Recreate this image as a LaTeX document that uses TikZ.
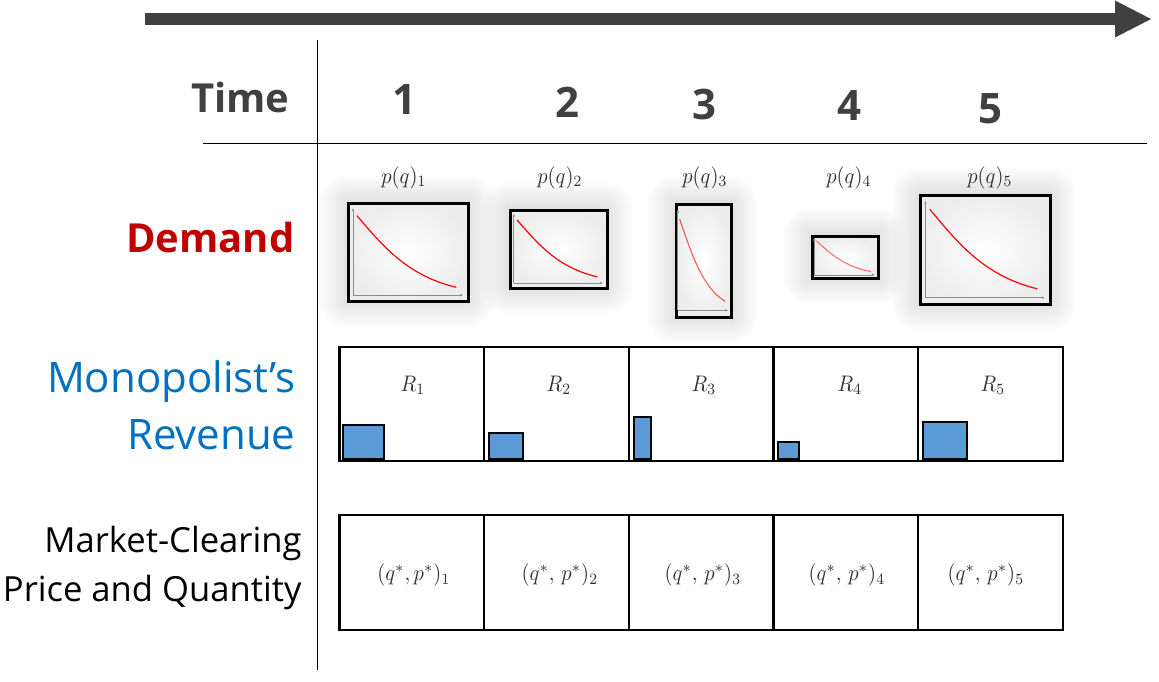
\documentclass[tikz,border=0pt]{standalone}
\usepackage{fontspec}
\setmainfont{Open Sans}
\usetikzlibrary{calc,arrows.meta}
\definecolor{dg}{HTML}{404040}
\definecolor{dred}{HTML}{C00000}
\definecolor{mblue}{HTML}{0070C0}
\definecolor{barblue}{HTML}{5B9BD5}
\newcommand\mlab[1]{\scalebox{2.05}[2.25]{$#1$}}
\tikzset{
  cell/.style={draw=black, line width=2.5pt, minimum width=145pt, inner sep=0pt, fill=white},
  bar/.style={draw=black, line width=1.5pt, fill=barblue, anchor=north west, inner sep=0pt},
  chart/.style={draw=black, line width=3pt, inner sep=0pt, shading=radial, inner color=white, outer color=black!7},
  axis/.style={draw=black!45, line width=0.8pt, -{Latex[length=3pt,width=2.5pt]}},
  demand/.style={red, line width=1.2pt},
  mathlbl/.style={text=black!80},
  num/.style={text=dg, font=\bfseries\fontsize{42}{48}\selectfont},
}
% name, x1, y1, w, h, curve opacity
\newcommand\demandchart[6]{%
  \foreach \m in {2,4,...,28}
    \fill[black, opacity=0.007, rounded corners=\m pt] (#2-\m,#3-\m) rectangle (#2+#4+\m,#3+#5+\m);
  \begin{scope}[shift={(#2,#3)}, x=#4pt, y=-#5pt]
    \node[chart, minimum width=#4pt, minimum height=#5pt, anchor=north west] (#1) at (0,0) {};
    \draw[axis] (0.05,0.95) -- (0.05,0.06);
    \draw[axis] (0.05,0.95) -- (0.97,0.95);
    \draw[demand, opacity=#6] (0.083,0.14) .. controls (0.3,0.45) and (0.5,0.75) .. (0.91,0.87);
  \end{scope}}
\begin{document}
\begin{tikzpicture}[x=1pt,y=-1pt]
\useasboundingbox[fill=white] (0,0) rectangle (1159,682);

% time arrow
\coordinate (a0) at (145,19);
\coordinate (a1) at (1152,19);
\draw[dg, line width=12pt, -{Triangle[length=37pt,width=34pt]}] (a0) -- (a1);

% grid lines
\coordinate (v0) at (317,40);
\coordinate (v1) at (317,670);
\coordinate (h0) at (203,143);
\coordinate (h1) at (1147,143);
\draw[line width=0.8pt] (v0) -- (v1);
\draw[line width=0.8pt] (h0) -- (h1);

% header
\node[num, anchor=east, font=\bfseries\fontsize{40}{48}\selectfont] (time) at (293,98) {Time};
\node[num] (t1) at (404,100) {1};
\node[num] (t2) at (567,102) {2};
\node[num] (t3) at (704,104) {3};
\node[num] (t4) at (849,106) {4};
\node[num] (t5) at (990,109) {5};

% row labels
\node[anchor=east, text=dred, font=\bfseries\fontsize{40}{48}\selectfont] (dem) at (298,237) {Demand};
\node[anchor=east, align=right, text=mblue, font=\fontsize{42}{57}\selectfont] (rev) at (299,405) {Monopolist’s\\Revenue};
\node[anchor=east, align=right, text=black, font=\fontsize{34.6}{49}\selectfont] (mkt) at (305,568) {Market-Clearing\\Price and Quantity};

% demand charts
\demandchart{d1}{347}{202}{120}{98}{1}
\demandchart{d2}{509}{209}{97}{78}{1}
\demandchart{d3}{675}{203}{55}{113}{0.6}
\demandchart{d4}{811}{235}{66}{42}{0.5}
\demandchart{d5}{919}{194}{130}{109}{1}

\node[mathlbl] (p1) at (404,178) {\mlab{p(q)_1}};
\node[mathlbl] (p2) at (560,178) {\mlab{p(q)_2}};
\node[mathlbl] (p3) at (705,178) {\mlab{p(q)_3}};
\node[mathlbl] (p4) at (849,178) {\mlab{p(q)_4}};
\node[mathlbl] (p5) at (990,178) {\mlab{p(q)_5}};

% revenue row
\node[cell, minimum height=114pt] (r1) at (412,404) {};
\node[cell, minimum height=114pt] (r2) at (556.5,404) {};
\node[cell, minimum height=114pt] (r3) at (701.5,404) {};
\node[cell, minimum height=114pt] (r4) at (846,404) {};
\node[cell, minimum height=114pt] (r5) at (990.5,404) {};
\node[mathlbl] (rl1) at (413,385) {\mlab{R_1}};
\node[mathlbl] (rl2) at (559,385) {\mlab{R_2}};
\node[mathlbl] (rl3) at (704,385) {\mlab{R_3}};
\node[mathlbl] (rl4) at (850,385) {\mlab{R_4}};
\node[mathlbl] (rl5) at (993,385) {\mlab{R_5}};
\node[bar, minimum width=41pt, minimum height=34pt] (b1) at (342,424) {};
\node[bar, minimum width=34pt, minimum height=26pt] (b2) at (488,432) {};
\node[bar, minimum width=17pt, minimum height=42pt] (b3) at (633,416) {};
\node[bar, minimum width=21pt, minimum height=17pt] (b4) at (777,441) {};
\node[bar, minimum width=44pt, minimum height=37pt] (b5) at (922,421) {};

% market row
\node[cell, minimum height=115pt] (m1) at (412,572.5) {};
\node[cell, minimum height=115pt] (m2) at (556.5,572.5) {};
\node[cell, minimum height=115pt] (m3) at (701.5,572.5) {};
\node[cell, minimum height=115pt] (m4) at (846,572.5) {};
\node[cell, minimum height=115pt] (m5) at (990.5,572.5) {};
\node[mathlbl] (ml1) at (414,575) {\mlab{(q^*,p^*)_1}};
\node[mathlbl] (ml2) at (560,575) {\mlab{(q^*,\,p^*)_2}};
\node[mathlbl] (ml3) at (703,575) {\mlab{(q^*,\,p^*)_3}};
\node[mathlbl] (ml4) at (847,575) {\mlab{(q^*,\,p^*)_4}};
\node[mathlbl] (ml5) at (986,575) {\mlab{(q^*,\,p^*)_5}};
\end{tikzpicture}
\end{document}
